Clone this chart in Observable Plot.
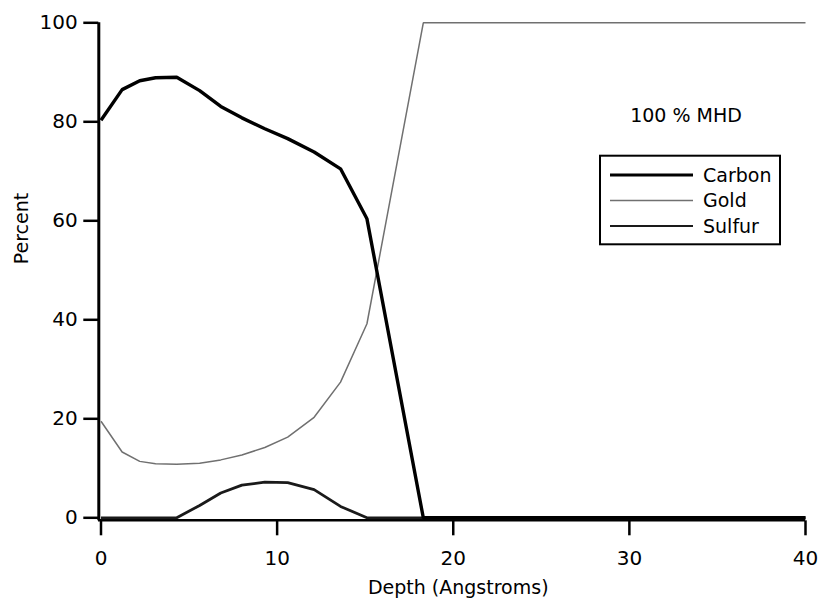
<!DOCTYPE html>
<html><head><meta charset="utf-8">
<script src="https://cdn.jsdelivr.net/npm/d3@7"></script>
<script src="https://cdn.jsdelivr.net/npm/@observablehq/plot@0.6"></script>
<style>body{margin:0;background:#fff} #chart svg{display:block}</style>
</head><body><div id="chart"></div>
<script>
// ---- data ----
const depth  = [0, 1.2, 2.2, 3.1, 4.3, 5.6, 6.8, 8.0, 9.3, 10.6, 12.1, 13.6, 15.1, 18.3, 40];
const carbon = [80.3, 86.5, 88.3, 88.9, 89.0, 86.3, 83.1, 80.8, 78.6, 76.6, 73.9, 70.5, 60.4, 0, 0];
const gold   = [19.5, 13.3, 11.4, 10.9, 10.8, 11.0, 11.7, 12.7, 14.2, 16.3, 20.3, 27.4, 39.2, 100, 100];
const sulfur = [0, 0, 0, 0, 0, 2.5, 5.0, 6.6, 7.2, 7.1, 5.7, 2.3, 0, 0, 0];
const seriesNames = ["Carbon", "Gold", "Sulfur"];
const xTicks = [0, 10, 20, 30, 40];
const yTicks = [0, 20, 40, 60, 80, 100];
const xLabel = "Depth (Angstroms)";
const yLabel = "Percent";
const annotation = "100 % MHD";

const seriesValues = {Carbon: carbon, Gold: gold, Sulfur: sulfur};
const rows = seriesNames.flatMap(s => depth.map((d, i) => ({series: s, depth: d, value: seriesValues[s][i]})));
const styles = {
  Gold:   {stroke: "#707070", strokeWidth: 1.5, legendWidth: 1.5},
  Sulfur: {stroke: "#1a1a1a", strokeWidth: 2.8, legendWidth: 2},
  Carbon: {stroke: "#000",    strokeWidth: 3.4, legendWidth: 3}
};
const drawOrder = ["Gold", "Sulfur", "Carbon"];

const plot = Plot.plot({
  width: 819, height: 598,
  marginLeft: 100.5, marginRight: 14, marginTop: 22.3, marginBottom: 80.7,
  style: {fontFamily: "'DejaVu Sans', sans-serif", fontSize: "20px", background: "#fff", color: "#000"},
  x: {domain: [0, 40]},
  y: {domain: [0, 100]},
  marks: [
    Plot.axisY({ticks: yTicks, tickSize: 15, tickPadding: 6, dx: -2.2, strokeWidth: 2.5, label: null, fontSize: 20}),
    Plot.axisX({ticks: xTicks, tickSize: 15, tickPadding: 15, dy: 3, strokeWidth: 2.5, label: null, fontSize: 20}),
    Plot.ruleX([0], {y1: -0.6, y2: 100, dx: -2.2, strokeWidth: 3}),
    Plot.ruleY([0], {x1: -0.14, x2: 40, dy: 2.5, strokeWidth: 2.5}),
    ...drawOrder.map(s => Plot.line(rows.filter(r => r.series === s), {
      x: "depth", y: "value", stroke: styles[s].stroke, strokeWidth: styles[s].strokeWidth,
      strokeLinejoin: "miter", strokeLinecap: "butt"
    })),
    Plot.text([xLabel], {frameAnchor: "bottom", lineAnchor: "middle", dx: 5, dy: 70, fontSize: 19}),
    Plot.text([yLabel], {frameAnchor: "left", lineAnchor: "middle", rotate: -90, dx: -79, dy: -6, fontSize: 19}),
    Plot.text([annotation], {frameAnchor: "top-right", textAnchor: "middle", lineAnchor: "middle", dx: -119.5, dy: 92.7, fontSize: 19})
  ]
});
document.getElementById("chart").appendChild(plot);

// ---- legend box (inside the plot area, top right) ----
const svg = d3.select(plot);
const lg = svg.append("g").attr("font-family", "'DejaVu Sans', sans-serif").attr("font-size", 19)
  .attr("text-anchor", "start");
lg.append("rect").attr("x", 600).attr("y", 155.7).attr("width", 180).attr("height", 88.6)
  .attr("fill", "#fff").attr("stroke", "#000").attr("stroke-width", 2);
seriesNames.forEach((s, i) => {
  const yy = 175 + i * 25.5;
  lg.append("line").attr("x1", 610).attr("x2", 693).attr("y1", yy).attr("y2", yy)
    .attr("stroke", styles[s].stroke).attr("stroke-width", styles[s].legendWidth);
  lg.append("text").attr("x", 703).attr("y", yy).attr("dy", "0.35em")
    .attr("text-anchor", "start").attr("fill", "#000").text(s);
});
</script>
</body></html>
